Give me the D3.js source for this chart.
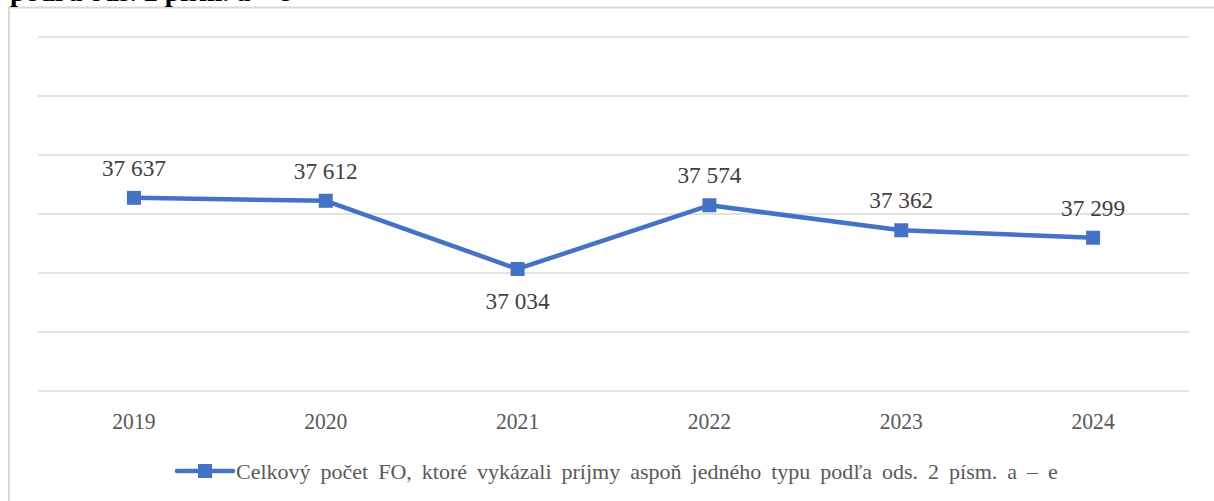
<!DOCTYPE html>
<html>
<head>
<meta charset="utf-8">
<script src="https://cdn.jsdelivr.net/npm/d3@7"></script>
<style>
  html, body { margin: 0; padding: 0; background: #fff; }
  svg { display: block; }
</style>
</head>
<body>
<div id="chart"></div>
<script>
// data
const years  = ["2019", "2020", "2021", "2022", "2023", "2024"];
const counts = [37637, 37612, 37034, 37574, 37362, 37299];
const labelBelow = ["2021"];
const seriesName = "Celkový počet FO, ktoré vykázali príjmy aspoň jedného typu podľa ods. 2 písm. a – e";
const titleTail  = "podľa ods. 2 písm. a – e";

const W = 1214, H = 501;
const plot = { left: 38, right: 1189, top: 37, bottom: 391 };
const blue = "#4472C4";
const FONT = "Liberation Serif";

const fmt = v => d3.format(",")(v).replace(/,/g, " ");

const svg = d3.select("#chart").append("svg")
  .attr("width", W).attr("height", H);

// chart frame (runs past the page edges)
svg.append("rect")
  .attr("x", 9).attr("y", 7.5)
  .attr("width", 1230).attr("height", 520)
  .attr("fill", "none").attr("stroke", "#d9d9d9").attr("stroke-width", 2);

// title line above the frame, mostly cut off in the source
svg.append("text")
  .attr("x", 10).attr("y", 1)
  .attr("font-family", FONT)
  .style("font-size", "28px").style("font-weight", "bold").style("fill", "#000")
  .text(titleTail);

const x = d3.scalePoint().domain(years).range([plot.left, plot.right]).padding(0.5);
const y = d3.scaleLinear().domain([36000, 39000]).range([plot.bottom, plot.top]);

// gridlines every 500
svg.append("g")
  .selectAll("line")
  .data(y.ticks(6))
  .join("line")
    .attr("x1", plot.left).attr("x2", plot.right)
    .attr("y1", d => y(d)).attr("y2", d => y(d))
    .attr("stroke", "#d9d9d9").attr("stroke-width", 1.5);

// year labels
svg.append("g")
  .selectAll("text")
  .data(years)
  .join("text")
    .attr("transform", d => `translate(${x(d)},429) scale(0.9,1)`)
    .attr("text-anchor", "middle")
    .attr("font-family", FONT)
    .style("font-size", "24px").style("fill", "#595959")
    .text(d => d);

const pts = years.map((yr, i) => ({ yr, v: counts[i] }));

// line
svg.append("path")
  .datum(pts)
  .attr("fill", "none").attr("stroke", blue)
  .attr("stroke-width", 4.5).attr("stroke-linejoin", "round")
  .attr("d", d3.line().x(d => x(d.yr)).y(d => y(d.v)));

// square markers
svg.append("g")
  .selectAll("rect")
  .data(pts)
  .join("rect")
    .attr("x", d => x(d.yr) - 7).attr("y", d => y(d.v) - 7)
    .attr("width", 14).attr("height", 14)
    .attr("fill", blue);

// data labels
svg.append("g")
  .selectAll("text")
  .data(pts)
  .join("text")
    .attr("transform", d => {
      const ty = labelBelow.includes(d.yr) ? y(d.v) + 40 : y(d.v) - 22;
      return `translate(${x(d.yr)},${ty}) scale(0.97,1)`;
    })
    .attr("text-anchor", "middle")
    .attr("font-family", FONT)
    .style("font-size", "24px").style("fill", "#404040")
    .text(d => fmt(d.v));

// legend
const lg = svg.append("g").attr("transform", "translate(177,471)");
lg.append("line")
  .attr("x1", 0).attr("x2", 56).attr("y1", 0).attr("y2", 0)
  .attr("stroke", blue).attr("stroke-width", 4.5).attr("stroke-linecap", "round");
lg.append("rect")
  .attr("x", 21).attr("y", -7).attr("width", 14).attr("height", 14)
  .attr("fill", blue);
lg.append("text")
  .attr("x", 59).attr("y", 7.5)
  .attr("font-family", FONT)
  .style("font-size", "22px").style("word-spacing", "4.5px").style("fill", "#595959")
  .text(seriesName);
</script>
</body>
</html>
